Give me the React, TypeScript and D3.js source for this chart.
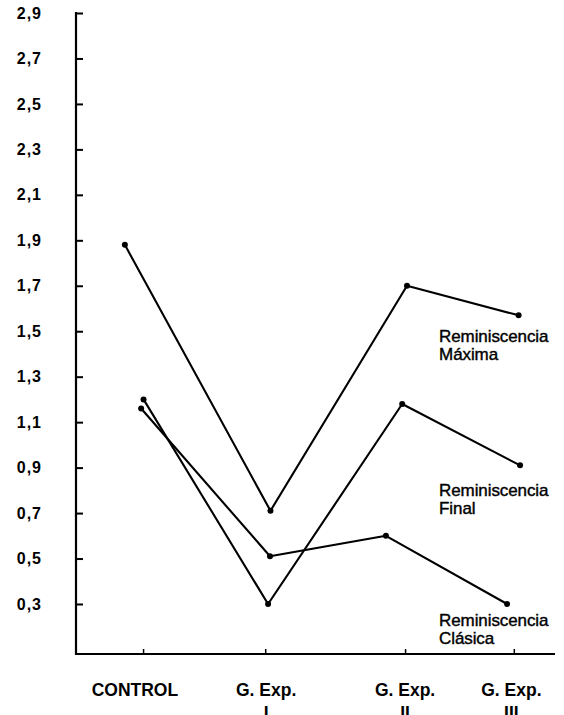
import React, { useEffect, useRef } from "react";
import * as d3 from "d3";

// ---- data ----
const categoryNames = ["CONTROL", "G. Exp.", "G. Exp.", "G. Exp."];
const categorySub = ["", "I", "II", "III"];
const categoryX = [14.0, 39.5, 68.7, 91.4]; // position of category ticks on the x axis (axis units 0-100)
const categoryLabelX = [12.3, 39.7, 68.7, 90.9];

const yTicks = [0.3, 0.5, 0.7, 0.9, 1.1, 1.3, 1.5, 1.7, 1.9, 2.1, 2.3, 2.5, 2.7, 2.9];

const maximaX = [10.2, 40.6, 69.1, 92.4];
const maximaValues = [1.88, 0.71, 1.7, 1.57];

const finalX = [14.1, 40.1, 68.1, 92.7];
const finalValues = [1.2, 0.3, 1.18, 0.91];

const clasicaX = [13.6, 40.5, 64.7, 90.0];
const clasicaValues = [1.16, 0.51, 0.6, 0.3];

const seriesNames = [
  ["Reminiscencia", "Máxima"],
  ["Reminiscencia", "Final"],
  ["Reminiscencia", "Clásica"],
];
const seriesLabelValue = [1.453, 0.775, 0.203];
const seriesLabelX = 75.8;

const W = 564;
const H = 715;

export default function App() {
  const ref = useRef<SVGSVGElement>(null);

  useEffect(() => {
    const svg = d3.select(ref.current);
    svg.selectAll("*").remove();

    const x = d3.scaleLinear().domain([0, 100]).range([76, 555]);
    const y = d3.scaleLinear().domain([0.08, 2.9]).range([654, 13]);

    const font = "'Liberation Sans', Arial, Helvetica, sans-serif";

    // Y axis
    const yAxis = d3
      .axisLeft(y)
      .tickValues(yTicks)
      .tickSize(-7)
      .tickPadding(34)
      .tickFormat((d: any) => (d as number).toFixed(1).replace(".", ","));
    const gy = svg.append("g").attr("transform", `translate(${x(0)},0)`).call(yAxis as any);
    gy.select(".domain").remove();
    gy.selectAll(".tick line").attr("stroke", "#000").attr("stroke-width", 2);
    gy.selectAll(".tick text")
      .attr("fill", "#000")
      .style("font-family", font)
      .style("font-size", "16px")
      .style("font-weight", "bold")
      .style("letter-spacing", "1px");
    svg
      .append("line")
      .attr("x1", x(0))
      .attr("x2", x(0))
      .attr("y1", y(2.9) - 1)
      .attr("y2", y(0.08) + 1)
      .attr("stroke", "#000")
      .attr("stroke-width", 2.2);

    // X axis
    const xAxis = d3
      .axisBottom(x)
      .tickValues(categoryX)
      .tickSize(-5)
      .tickFormat(() => "");
    const gx = svg.append("g").attr("transform", `translate(0,${y(0.08)})`).call(xAxis as any);
    gx.select(".domain").remove();
    gx.selectAll(".tick line").attr("stroke", "#000").attr("stroke-width", 1.5);
    svg
      .append("line")
      .attr("x1", x(0) - 1)
      .attr("x2", x(100))
      .attr("y1", y(0.08))
      .attr("y2", y(0.08))
      .attr("stroke", "#000")
      .attr("stroke-width", 2.2);

    // category labels
    const cl = svg
      .append("g")
      .selectAll("text")
      .data(categoryNames)
      .enter()
      .append("text")
      .attr("x", (_d, i) => x(categoryLabelX[i]))
      .attr("y", 696)
      .attr("text-anchor", "middle")
      .style("font-family", font)
      .style("font-size", "17.5px")
      .style("font-weight", "bold")
      .attr("fill", "#000");
    cl.append("tspan").text((d) => d);
    cl.append("tspan")
      .attr("x", (_d, i) => x(categoryLabelX[i]))
      .attr("dy", 23)
      .text((_d, i) => categorySub[i]);

    // series
    const series = [
      { xs: maximaX, vs: maximaValues },
      { xs: finalX, vs: finalValues },
      { xs: clasicaX, vs: clasicaValues },
    ];
    const line = d3
      .line<[number, number]>()
      .x((d) => x(d[0]))
      .y((d) => y(d[1]));

    series.forEach((s, si) => {
      const pts: [number, number][] = s.vs.map((v, i) => [s.xs[i], v]);
      svg
        .append("path")
        .attr("d", line(pts) as string)
        .attr("fill", "none")
        .attr("stroke", "#000")
        .attr("stroke-width", 2.1)
        .attr("stroke-linejoin", "round");
      svg
        .append("g")
        .selectAll("circle")
        .data(pts)
        .enter()
        .append("circle")
        .attr("cx", (d) => x(d[0]))
        .attr("cy", (d) => y(d[1]))
        .attr("r", 3)
        .attr("fill", "#000");

      const t = svg
        .append("text")
        .attr("x", x(seriesLabelX))
        .attr("y", y(seriesLabelValue[si]))
        .style("font-family", font)
        .style("font-size", "17px")
        .style("letter-spacing", "-0.1px")
        .attr("fill", "#000")
        .attr("stroke", "#000")
        .attr("stroke-width", 0.4);
      seriesNames[si].forEach((ln, li) => {
        t.append("tspan")
          .attr("x", x(seriesLabelX))
          .attr("dy", li === 0 ? 0 : 18)
          .text(ln);
      });
    });
  }, []);

  return (
    <>
      <style>{`body{margin:0;background:#fff}`}</style>
      <svg ref={ref} width={W} height={H} style={{ display: "block" }} />
    </>
  );
}
